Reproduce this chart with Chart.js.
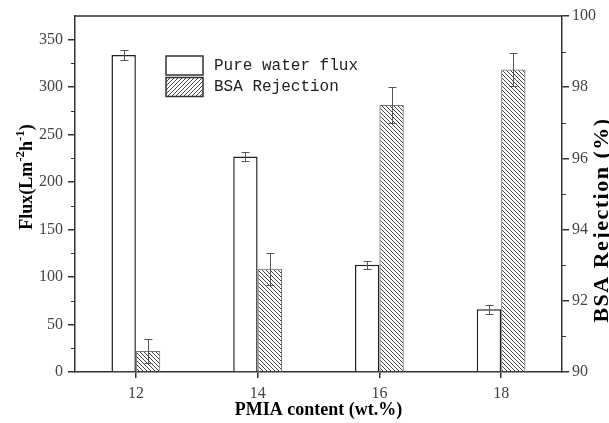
<!DOCTYPE html>
<html>
<head>
<meta charset="utf-8">
<script src="https://cdn.jsdelivr.net/npm/chart.js@4"></script>
<style>
    html, body { margin: 0; padding: 0; background: #fff; }
</style>
</head>
<body>
<canvas id="fluxChart" width="609" height="423"></canvas>
<script>
// data
const contents = ['12', '14', '16', '18'];
const fluxValues = [334, 227, 113, 66];
const fluxErrors = [5, 5, 4, 5];
const rejectionValues = [90.59, 92.9, 97.5, 98.5];
const rejectionErrors = [0.34, 0.45, 0.5, 0.47];
const fluxTicks = [0, 50, 100, 150, 200, 250, 300, 350];
const fluxMinorTicks = [25, 75, 125, 175, 225, 275, 325];
const rejectionTicks = [90, 92, 94, 96, 98, 100];
const rejectionMinorTicks = [91, 93, 95, 97, 99];

const serif = '"Liberation Serif", "Times New Roman", serif';
const axisColor = '#333';

function makeHatch(backslash) {
    const c = document.createElement('canvas');
    c.width = 4; c.height = 4;
    const g = c.getContext('2d');
    g.strokeStyle = '#444';
    g.lineWidth = 1;
    g.beginPath();
    if (backslash) { g.moveTo(-1, -1); g.lineTo(5, 5); }
    else { g.moveTo(-1, 5); g.lineTo(5, -1); }
    g.stroke();
    return g.createPattern(c, 'repeat');
}
const barHatch = makeHatch(true);
const legendHatch = makeHatch(false);

const errorBars = {
    id: 'errorBars',
    afterDatasetsDraw(chart) {
        const ctx = chart.ctx;
        const errs = [fluxErrors, rejectionErrors];
        ctx.save();
        ctx.strokeStyle = '#555';
        ctx.lineWidth = 1;
        chart.data.datasets.forEach((ds, i) => {
            const scale = chart.scales[ds.yAxisID];
            chart.getDatasetMeta(i).data.forEach((bar, j) => {
                const v = ds.data[j], e = errs[i][j];
                const top = Math.round(scale.getPixelForValue(v + e)) + 0.5;
                const bot = Math.round(scale.getPixelForValue(v - e)) + 0.5;
                const x = Math.round(bar.x) + 0.5;
                ctx.beginPath();
                ctx.moveTo(x, top); ctx.lineTo(x, bot);
                ctx.moveTo(x - 4, top); ctx.lineTo(x + 4, top);
                ctx.moveTo(x - 4, bot); ctx.lineTo(x + 4, bot);
                ctx.stroke();
            });
        });
        ctx.restore();
    }
};

const decorations = {
    id: 'decorations',
    afterDraw(chart) {
        const ctx = chart.ctx;
        const area = chart.chartArea;
        const y = chart.scales.y, y2 = chart.scales.y2;
        ctx.save();
        // top frame line
        ctx.strokeStyle = axisColor;
        ctx.lineWidth = 1.5;
        ctx.beginPath();
        ctx.moveTo(area.left, area.top);
        ctx.lineTo(area.right, area.top);
        ctx.stroke();
        // minor ticks
        ctx.lineWidth = 1.2;
        ctx.beginPath();
        fluxMinorTicks.forEach(v => {
            const py = Math.round(y.getPixelForValue(v)) + 0.5;
            ctx.moveTo(area.left - 4, py); ctx.lineTo(area.left, py);
        });
        rejectionMinorTicks.forEach(v => {
            const py = Math.round(y2.getPixelForValue(v)) + 0.5;
            ctx.moveTo(area.right, py); ctx.lineTo(area.right + 4, py);
        });
        ctx.stroke();

        // legend
        ctx.lineWidth = 1.5;
        ctx.strokeStyle = '#333';
        ctx.fillStyle = '#fff';
        ctx.fillRect(166, 56, 37, 19);
        ctx.strokeRect(166, 56, 37, 19);
        ctx.fillStyle = '#fff';
        ctx.fillRect(166, 77.5, 37, 19);
        ctx.fillStyle = legendHatch;
        ctx.fillRect(166, 77.5, 37, 19);
        ctx.strokeRect(166, 77.5, 37, 19);
        ctx.fillStyle = '#222';
        ctx.font = '16px "Liberation Mono", monospace';
        ctx.textBaseline = 'middle';
        ctx.textAlign = 'left';
        ctx.fillText('Pure water flux', 214, 66);
        ctx.fillText('BSA Rejection', 214, 87);

        // x title
        ctx.fillStyle = '#000';
        ctx.font = 'bold 18px ' + serif;
        ctx.textAlign = 'center';
        ctx.fillText('PMIA content (wt.%)', (area.left + area.right) / 2, 410);

        // left title with superscripts
        ctx.save();
        ctx.translate(32, 177);
        ctx.rotate(-Math.PI / 2);
        ctx.textBaseline = 'alphabetic';
        ctx.textAlign = 'left';
        const big = 'bold 18px ' + serif, small = 'bold 13px ' + serif;
        const parts = [['Flux(Lm', big, 0], ['-2', small, -8], ['h', big, 0], ['-1', small, -8], [')', big, 0]];
        let total = 0;
        parts.forEach(p => { ctx.font = p[1]; total += ctx.measureText(p[0]).width; });
        let cx = -total / 2;
        parts.forEach(p => {
            ctx.font = p[1];
            ctx.fillText(p[0], cx, p[2]);
            cx += ctx.measureText(p[0]).width;
        });
        ctx.restore();

        // right title, reading upward
        ctx.save();
        ctx.translate(608, 220);
        ctx.rotate(-Math.PI / 2);
        ctx.textBaseline = 'alphabetic';
        ctx.textAlign = 'center';
        ctx.font = 'bold 22px ' + serif;
        ctx.letterSpacing = '1.5px';
        ctx.fillText('BSA Rejection (%)', 0, 0);
        ctx.restore();
        ctx.restore();
    }
};

const ctxFlux = document.getElementById('fluxChart').getContext('2d');
const fluxChart = new Chart(ctxFlux, {
    type: 'bar',
    data: {
        labels: contents,
        datasets: [{
            label: 'Pure water flux',
            data: fluxValues,
            yAxisID: 'y',
            backgroundColor: '#fff',
            borderColor: '#222',
            borderWidth: 1.5,
            barPercentage: 1,
            categoryPercentage: 0.401,
        }, {
            label: 'BSA Rejection',
            data: rejectionValues,
            yAxisID: 'y2',
            backgroundColor: barHatch,
            borderColor: '#777',
            borderWidth: 1,
            barPercentage: 1,
            categoryPercentage: 0.401,
        }]
    },
    options: {
        responsive: false,
        animation: false,
        layout: { padding: { top: 16, left: 0, right: 0, bottom: 0 } },
        scales: {
            x: {
                offset: true,
                grid: {
                    offset: false,
                    drawOnChartArea: false,
                    tickLength: 6,
                    color: axisColor,
                    lineWidth: 1.5,
                },
                border: { color: axisColor, width: 1.5 },
                ticks: {
                    color: '#444',
                    padding: 6,
                    font: { family: serif, size: 16 },
                },
                afterFit: s => { s.height = 51; }
            },
            y: {
                position: 'left',
                min: 0,
                max: 375,
                afterBuildTicks: s => { s.ticks = fluxTicks.map(v => ({ value: v })); },
                grid: {
                    drawOnChartArea: false,
                    tickLength: 7,
                    color: axisColor,
                    lineWidth: 1.5,
                },
                border: { color: axisColor, width: 1.5 },
                ticks: {
                    color: '#444',
                    padding: 5,
                    font: { family: serif, size: 16 },
                },
                afterFit: s => { s.width = 75; }
            },
            y2: {
                position: 'right',
                min: 90,
                max: 100,
                afterBuildTicks: s => { s.ticks = rejectionTicks.map(v => ({ value: v })); },
                grid: {
                    drawOnChartArea: false,
                    tickLength: 7,
                    color: axisColor,
                    lineWidth: 1.5,
                },
                border: { color: axisColor, width: 1.5 },
                ticks: {
                    color: '#444',
                    padding: 3,
                    font: { family: serif, size: 16 },
                },
                afterFit: s => { s.width = 47; }
            }
        },
        plugins: {
            legend: { display: false },
            tooltip: { enabled: false }
        }
    },
    plugins: [errorBars, decorations]
});
</script>
</body>
</html>
